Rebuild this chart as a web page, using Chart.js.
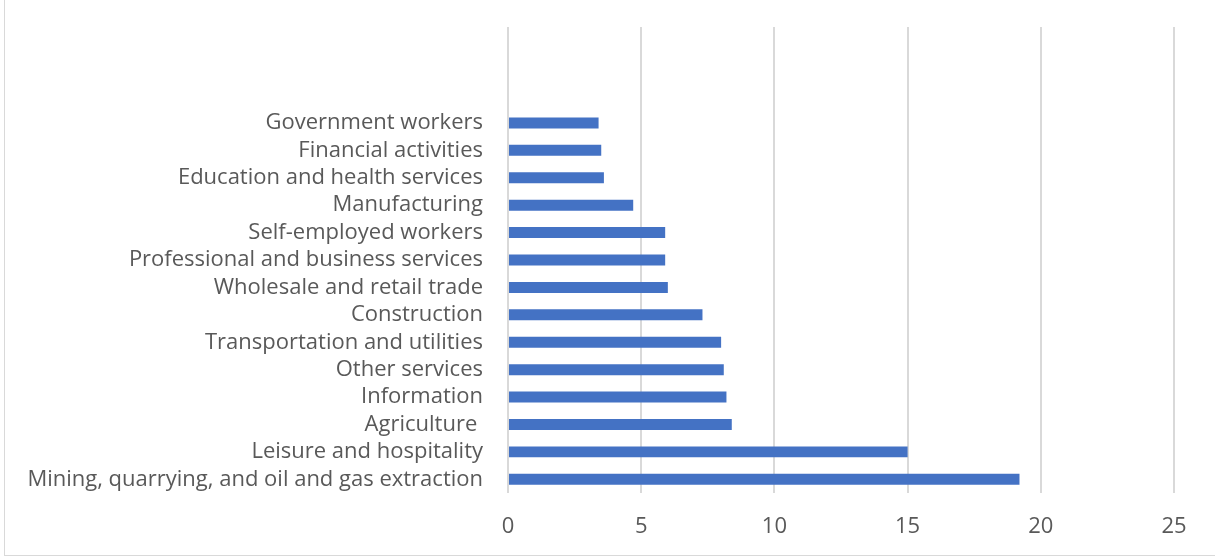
<!DOCTYPE html>
<html>
<head>
<meta charset="utf-8">
<script src="https://cdn.jsdelivr.net/npm/chart.js@4.4.1/dist/chart.umd.min.js"></script>
<style>
  html, body { margin: 0; padding: 0; background: #fff; }
  #frame {
    position: absolute; left: 4px; top: 0;
    width: 1210px; height: 555px;
    border-left: 1px solid #d9d9d9;
    border-bottom: 1px solid #d9d9d9;
  }
  #chart { display: block; }
</style>
</head>
<body>
<div id="frame"><canvas id="chart" width="1210" height="555"></canvas></div>
<script>
// Industries, top to bottom
const industries = [
  'Government workers',
  'Financial activities',
  'Education and health services',
  'Manufacturing',
  'Self-employed workers',
  'Professional and business services',
  'Wholesale and retail trade',
  'Construction',
  'Transportation and utilities',
  'Other services',
  'Information',
  'Agriculture ',
  'Leisure and hospitality',
  'Mining, quarrying, and oil and gas extraction'
];
const values = [3.4, 3.5, 3.6, 4.7, 5.9, 5.9, 6.0, 7.3, 8.0, 8.1, 8.2, 8.4, 15.0, 19.2];
const xTicks = [0, 5, 10, 15, 20, 25];

// three empty slots above the first bar
const blankRows = 3;
const labels = Array(blankRows).fill('').concat(industries);
const data = Array(blankRows).fill(null).concat(values);

const font = { family: "'Open Sans', sans-serif", size: 22 };

new Chart(document.getElementById('chart'), {
    type: 'bar',
    data: {
        labels: labels,
        datasets: [{
            data: data,
            backgroundColor: '#4472C4',
            borderWidth: 0,
            barPercentage: 0.4,
            categoryPercentage: 1
        }]
    },
    options: {
        indexAxis: 'y',
        responsive: false,
        animation: false,
        layout: { padding: { top: 27, right: 41, left: 0, bottom: 0 } },
        plugins: { legend: { display: false }, tooltip: { enabled: false } },
        scales: {
            x: {
                min: 0, max: 25,
                afterBuildTicks: s => { s.ticks = xTicks.map(v => ({ value: v })); },
                afterFit: s => { s.height = 62; s.paddingLeft = 0; s.paddingRight = 0; },
                grid: { color: '#d9d9d9', lineWidth: 2, drawTicks: false },
                border: { display: false },
                ticks: { color: '#595959', font: font, padding: 21 }
            },
            y: {
                afterFit: s => { s.width = 503; s.paddingTop = 0; s.paddingBottom = 0; },
                grid: { display: false },
                border: { display: false },
                ticks: { color: '#595959', font: font, padding: 17, autoSkip: false }
            }
        }
    }
});
</script>
</body>
</html>
